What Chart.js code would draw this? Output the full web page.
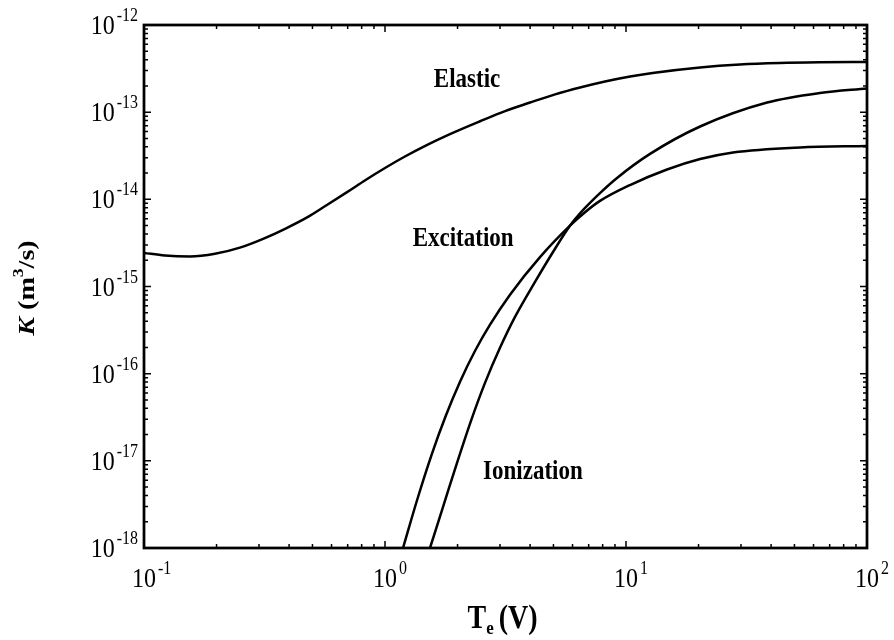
<!DOCTYPE html>
<html>
<head>
<meta charset="utf-8">
<title>Rate constants</title>
<script src="https://cdn.jsdelivr.net/npm/chart.js@4.4.0/dist/chart.umd.min.js"></script>
<style>
  html, body { margin: 0; padding: 0; background: #fff; }
  canvas { display: block; }
</style>
</head>
<body>
<canvas id="rateChart" width="894" height="640"></canvas>
<script>
// values (Te in volts, K in m^3/s)
const elasticTe = [0.1, 0.122, 0.155, 0.197, 0.25, 0.312, 0.385, 0.475, 0.574, 0.696, 0.834, 1.0, 1.21, 1.49, 1.86, 2.48, 3.15, 4.0, 5.08, 6.45, 8.18, 10.4, 12.9, 20.3, 29.7, 43.5, 63.8, 100];
const elasticK = [2.43e-15, 2.27e-15, 2.21e-15, 2.37e-15, 2.79e-15, 3.52e-15, 4.59e-15, 6.2e-15, 8.61e-15, 1.21e-14, 1.68e-14, 2.29e-14, 3.1e-14, 4.19e-14, 5.6e-14, 7.87e-14, 1.03e-13, 1.29e-13, 1.6e-13, 1.92e-13, 2.25e-13, 2.57e-13, 2.82e-13, 3.26e-13, 3.52e-13, 3.66e-13, 3.73e-13, 3.77e-13];

const excitationTe = [1.188, 1.358, 1.567, 1.791, 2.048, 2.362, 2.728, 3.302, 4.397, 5.856, 6.76, 7.8, 10.39, 14.8, 20.3, 27.8, 52.7, 100];
const excitationK = [1e-18, 3.53e-18, 1.21e-17, 3.33e-17, 8.09e-17, 1.82e-16, 3.65e-16, 8.05e-16, 2.17e-15, 4.98e-15, 7.11e-15, 9.59e-15, 1.46e-14, 2.2e-14, 2.9e-14, 3.45e-14, 3.94e-14, 4.09e-14];

const ionizationTe = [1.537, 1.757, 1.99, 2.274, 2.6, 3.0, 3.463, 4.193, 4.979, 5.856, 6.76, 7.8, 9.18, 12.58, 20.3, 38.5, 63.8, 100];
const ionizationK = [1e-18, 3.21e-18, 9.48e-18, 2.88e-17, 7.84e-17, 1.98e-16, 4.48e-16, 1.13e-15, 2.49e-15, 4.98e-15, 7.96e-15, 1.18e-14, 1.76e-14, 3.32e-14, 6.85e-14, 1.29e-13, 1.66e-13, 1.87e-13];

// tick labels are powers of ten
const xTickExps = [-1, 0, 1, 2];
const yTickExps = [-18, -17, -16, -15, -14, -13, -12];

const curveLabels = [
  { text: 'Elastic', te: 2.19, k: 2.4e-13 },
  { text: 'Excitation', te: 2.11, k: 3.6e-15 },
  { text: 'Ionization', te: 4.11, k: 7.7e-18 }
];

const serif = "'Liberation Serif', 'DejaVu Serif', serif";
const vStretch = 1.17; // scanned figure is a bit taller than wide

function toPoints(xs, ys) {
  return xs.map((v, i) => ({ x: v, y: ys[i] }));
}

function minorValues(exps) {
  const out = [];
  for (let e = exps[0]; e < exps[exps.length - 1]; e++) {
    for (let m = 2; m <= 9; m++) out.push(m * Math.pow(10, e));
  }
  return out;
}

// "10" with a raised exponent; anchor is the centre of "10" (x) or the right end (y)
function drawPower(ctx, exp, x, y, mode) {
  const base = '10', sup = String(exp);
  ctx.font = '24px ' + serif;
  const wb = ctx.measureText(base).width;
  ctx.font = '16px ' + serif;
  const ws = ctx.measureText(sup).width;
  const left = mode === 'x' ? x - wb / 2 : x - wb - ws - 2;
  ctx.save();
  ctx.translate(left, y);
  ctx.scale(1, vStretch);
  ctx.font = '24px ' + serif;
  ctx.fillText(base, 0, 0);
  ctx.font = '16px ' + serif;
  ctx.fillText(sup, wb + 2, -11);
  ctx.restore();
}

const frameAndText = {
  id: 'frameAndText',
  afterDatasetsDraw(chart) {
    const { ctx, chartArea: a, scales: { x, y } } = chart;
    ctx.save();
    ctx.strokeStyle = '#000';
    ctx.fillStyle = '#000';

    // inward ticks on all four sides
    ctx.lineWidth = 1.5;
    ctx.beginPath();
    minorValues(xTickExps).forEach(v => {
      const px = x.getPixelForValue(v);
      ctx.moveTo(px, a.bottom); ctx.lineTo(px, a.bottom - 4);
      ctx.moveTo(px, a.top); ctx.lineTo(px, a.top + 4);
    });
    minorValues(yTickExps).forEach(v => {
      const py = y.getPixelForValue(v);
      ctx.moveTo(a.left, py); ctx.lineTo(a.left + 4, py);
      ctx.moveTo(a.right, py); ctx.lineTo(a.right - 4, py);
    });
    xTickExps.forEach(e => {
      const px = x.getPixelForValue(Math.pow(10, e));
      ctx.moveTo(px, a.bottom); ctx.lineTo(px, a.bottom - 7);
      ctx.moveTo(px, a.top); ctx.lineTo(px, a.top + 7);
    });
    yTickExps.forEach(e => {
      const py = y.getPixelForValue(Math.pow(10, e));
      ctx.moveTo(a.left, py); ctx.lineTo(a.left + 7, py);
      ctx.moveTo(a.right, py); ctx.lineTo(a.right - 7, py);
    });
    ctx.stroke();

    ctx.lineWidth = 2.75;
    ctx.strokeRect(a.left, a.top, a.right - a.left, a.bottom - a.top);

    // tick labels
    ctx.textBaseline = 'alphabetic';
    ctx.textAlign = 'left';
    xTickExps.forEach(e => {
      drawPower(ctx, e, x.getPixelForValue(Math.pow(10, e)), a.bottom + 39, 'x');
    });
    yTickExps.forEach(e => {
      drawPower(ctx, e, a.left - 6, y.getPixelForValue(Math.pow(10, e)) + 9, 'y');
    });

    // curve names
    ctx.font = 'bold 23px ' + serif;
    curveLabels.forEach(l => {
      const w = ctx.measureText(l.text).width;
      ctx.save();
      ctx.translate(x.getPixelForValue(l.te) - w / 2, y.getPixelForValue(l.k) + 8);
      ctx.scale(1, vStretch);
      ctx.fillText(l.text, 0, 0);
      ctx.restore();
    });

    // x axis title: Te (V)
    ctx.save();
    const cx = (a.left + a.right) / 2 + 2;
    ctx.translate(cx - 40, 628);
    ctx.scale(1, vStretch);
    ctx.font = 'bold 28px ' + serif;
    ctx.fillText('T', 0, 0);
    let off = ctx.measureText('T').width;
    ctx.font = 'bold 17px ' + serif;
    ctx.fillText('e', off, 5);
    off += ctx.measureText('e').width + 5;
    ctx.font = 'bold 28px ' + serif;
    ctx.fillText('(V)', off, 0);
    ctx.restore();

    // y axis title: K (m3/s)
    ctx.save();
    ctx.translate(34, 288);
    ctx.rotate(-Math.PI / 2);
    ctx.scale(vStretch, 1);
    const parts = [
      { t: 'K', f: 'italic bold 24px ', dy: 0 },
      { t: ' (m', f: 'bold 24px ', dy: 0 },
      { t: '3', f: 'bold 15px ', dy: -11 },
      { t: '/s)', f: 'bold 24px ', dy: 0 }
    ];
    let total = 0;
    parts.forEach(p => { ctx.font = p.f + serif; total += ctx.measureText(p.t).width; });
    let px = -total / 2;
    parts.forEach(p => {
      ctx.font = p.f + serif;
      ctx.fillText(p.t, px, p.dy);
      px += ctx.measureText(p.t).width;
    });
    ctx.restore();

    ctx.restore();
  }
};

const lineStyle = {
  borderColor: '#000',
  borderWidth: 2.5,
  pointRadius: 0,
  fill: false,
  cubicInterpolationMode: 'monotone'
};

const ctx = document.getElementById('rateChart').getContext('2d');
const rateChart = new Chart(ctx, {
  type: 'line',
  data: {
    datasets: [
      Object.assign({ label: 'Elastic', data: toPoints(elasticTe, elasticK) }, lineStyle),
      Object.assign({ label: 'Excitation', data: toPoints(excitationTe, excitationK) }, lineStyle),
      Object.assign({ label: 'Ionization', data: toPoints(ionizationTe, ionizationK) }, lineStyle)
    ]
  },
  options: {
    responsive: false,
    animation: false,
    layout: { padding: { left: 0, top: 25, right: 27, bottom: 0 } },
    plugins: {
      legend: { display: false },
      tooltip: { enabled: false }
    },
    scales: {
      x: {
        type: 'logarithmic',
        min: 0.1,
        max: 100,
        grid: { display: false },
        border: { display: false },
        ticks: { display: false },
        afterFit(scale) { scale.height = 92; }
      },
      y: {
        type: 'logarithmic',
        min: 1e-18,
        max: 1e-12,
        grid: { display: false },
        border: { display: false },
        ticks: { display: false },
        afterFit(scale) { scale.width = 144; }
      }
    }
  },
  plugins: [frameAndText]
});
</script>
</body>
</html>
